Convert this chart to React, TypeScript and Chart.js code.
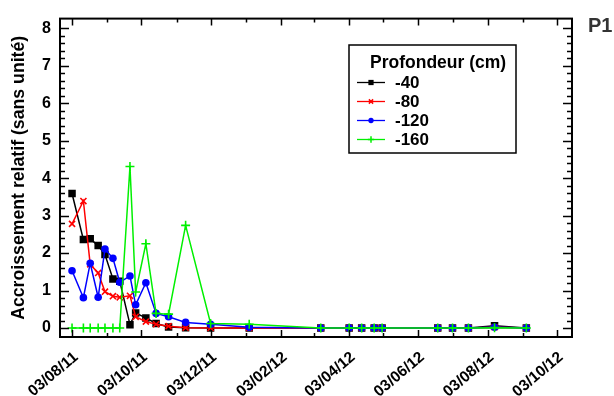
import React, { useEffect, useRef } from "react";
import { Chart, registerables } from "chart.js";

Chart.register(...registerables);

// Sampling dates (dd/mm/yy)
const sampleDates = [
  "03/08/11", "13/08/11", "19/08/11", "26/08/11", "01/09/11", "08/09/11", "14/09/11",
  "23/09/11", "28/09/11", "07/10/11", "16/10/11", "27/10/11", "11/11/11", "03/12/11",
  "06/01/12", "09/03/12", "03/04/12", "14/04/12", "25/04/12", "02/05/12", "20/06/12",
  "03/07/12", "17/07/12", "09/08/12", "06/09/12",
];

const depth40 = [3.59, 2.36, 2.38, 2.2, 1.96, 1.31, 1.25, 0.09, 0.4, 0.27, 0.12, 0.03, 0.01, 0, 0, 0, 0, 0, 0, 0, 0, 0, 0, 0.06, 0];
const depth80 = [2.78, 3.39, 1.7, 1.47, 0.97, 0.85, 0.82, 0.86, 0.3, 0.17, 0.1, 0.05, 0.01, 0, 0, 0, 0, 0, 0, 0, 0, 0, 0, 0.02, 0];
const depth120 = [1.53, 0.81, 1.73, 0.82, 2.11, 1.86, 1.22, 1.39, 0.62, 1.21, 0.39, 0.3, 0.15, 0.1, 0.02, 0, 0, 0, 0, 0, 0, 0, 0, 0.02, 0];
const depth160 = [0, 0, 0, 0, 0, 0, 0, 4.31, 0.96, 2.25, 0.39, 0.37, 2.74, 0.12, 0.1, 0, 0, 0, 0, 0, 0, 0, 0, 0.01, 0];

const seriesLabels = ["-40", "-80", "-120", "-160"];
const legendTitle = "Profondeur (cm)";
const yAxisTitle = "Accroissement relatif (sans unité)";
const panelLabel = "P1";

const xTickDates = ["03/08/11", "03/10/11", "03/12/11", "03/02/12", "03/04/12", "03/06/12", "03/08/12", "03/10/12"];
const xMinorDates = ["03/09/11", "03/11/11", "03/01/12", "03/03/12", "03/05/12", "03/07/12", "03/09/12"];
const yTicks = [0, 1, 2, 3, 4, 5, 6, 7, 8];

const ORIGIN = Date.UTC(2011, 7, 3);
function toDay(s: string): number {
  const [d, m, y] = s.split("/").map(Number);
  return (Date.UTC(2000 + y, m - 1, d) - ORIGIN) / 86400000;
}

const FONT = "'Liberation Sans', Arial, Helvetica, sans-serif";
const colors = ["#000000", "#ff0000", "#0000ff", "#00f000"];
const styles = ["rect", "crossRot", "circle", "cross"];
const radii = [5.3, 4.3, 3.8, 4.5];

function drawMarker(ctx: CanvasRenderingContext2D, style: string, x: number, y: number, r: number, color: string) {
  ctx.save();
  ctx.fillStyle = color;
  ctx.strokeStyle = color;
  ctx.lineWidth = 1.5;
  ctx.beginPath();
  if (style === "rect") {
    const s = r * Math.SQRT1_2;
    ctx.rect(x - s, y - s, 2 * s, 2 * s);
    ctx.fill();
  } else if (style === "circle") {
    ctx.arc(x, y, r, 0, Math.PI * 2);
    ctx.fill();
  } else if (style === "crossRot") {
    const s = r * Math.SQRT1_2;
    ctx.moveTo(x - s, y - s); ctx.lineTo(x + s, y + s);
    ctx.moveTo(x - s, y + s); ctx.lineTo(x + s, y - s);
    ctx.stroke();
  } else {
    ctx.moveTo(x - r, y); ctx.lineTo(x + r, y);
    ctx.moveTo(x, y - r); ctx.lineTo(x, y + r);
    ctx.stroke();
  }
  ctx.restore();
}

const framePlugin = {
  id: "frameTicks",
  afterDatasetsDraw(chart: any) {
    const { ctx, chartArea } = chart;
    const { left, right, top, bottom } = chartArea;
    const xs = chart.scales.x;
    const ys = chart.scales.y;
    ctx.save();
    ctx.strokeStyle = "#000";
    ctx.lineWidth = 1.5;
    // y ticks
    for (let v = 0; v <= 8.0001; v += 0.2) {
      const major = Math.abs(v - Math.round(v)) < 1e-6;
      const len = major ? 9 : 5;
      const py = Math.round(ys.getPixelForValue(v)) + 0.5;
      ctx.beginPath();
      ctx.moveTo(left, py); ctx.lineTo(left + len, py);
      ctx.moveTo(right, py); ctx.lineTo(right - len, py);
      ctx.stroke();
    }
    const xt = (arr: string[], len: number) => {
      arr.forEach((d) => {
        const px = Math.round(xs.getPixelForValue(toDay(d))) + 0.5;
        ctx.beginPath();
        ctx.moveTo(px, bottom); ctx.lineTo(px, bottom - len);
        ctx.moveTo(px, top); ctx.lineTo(px, top + len);
        ctx.stroke();
      });
    };
    xt(xTickDates, 7);
    xt(xMinorDates, 4);
    ctx.lineWidth = 2;
    ctx.strokeRect(left, top, right - left, bottom - top);
    ctx.restore();
  },
  afterDraw(chart: any) {
    const { ctx } = chart;
    ctx.save();
    // legend box
    ctx.strokeStyle = "#000";
    ctx.lineWidth = 1.5;
    ctx.fillStyle = "#fff";
    ctx.fillRect(349, 45, 167, 108);
    ctx.strokeRect(349, 45, 167, 108);
    ctx.fillStyle = "#000";
    ctx.font = `bold 17.5px ${FONT}`;
    ctx.textBaseline = "middle";
    ctx.textAlign = "left";
    ctx.fillText(legendTitle, 370, 63);
    const rows = [82.5, 101.5, 120.5, 139.5];
    seriesLabels.forEach((lab, i) => {
      const y = rows[i];
      ctx.strokeStyle = colors[i];
      ctx.lineWidth = 1.3;
      ctx.beginPath();
      ctx.moveTo(357, y); ctx.lineTo(385, y);
      ctx.stroke();
      drawMarker(ctx, styles[i], 371, y, radii[i] * 0.7, colors[i]);
      ctx.fillStyle = "#000";
      ctx.font = `bold 17px ${FONT}`;
      ctx.fillText(lab, 395, y + 1);
    });
    // panel label
    ctx.fillStyle = "#333";
    ctx.font = `bold 20px ${FONT}`;
    ctx.fillText(panelLabel, 588, 26);
    ctx.restore();
  },
};

export default function App() {
  const ref = useRef<HTMLCanvasElement>(null);
  useEffect(() => {
    document.body.style.margin = "0";
    if (!ref.current) return;
    const days = sampleDates.map(toDay);
    const all = [depth40, depth80, depth120, depth160];
    const chart = new Chart(ref.current, {
      type: "line",
      data: {
        datasets: all.map((vals, i) => ({
          label: seriesLabels[i],
          data: vals.map((v, j) => ({ x: days[j], y: v })),
          borderColor: colors[i],
          backgroundColor: colors[i],
          borderWidth: 1.5,
          pointStyle: styles[i] as any,
          pointRadius: radii[i],
          pointBorderWidth: i === 1 || i === 3 ? 1.6 : 0,
          pointBorderColor: colors[i],
          pointBackgroundColor: colors[i],
          tension: 0,
          fill: false,
          order: 3 - i,
        })),
      },
      options: {
        responsive: false,
        animation: false,
        layout: { padding: { top: 14, right: 42, left: 0, bottom: 0 } },
        plugins: { legend: { display: false }, tooltip: { enabled: false } },
        scales: {
          x: {
            type: "linear",
            min: -10.6,
            max: 440.2,
            afterBuildTicks: (s: any) => {
              s.ticks = xTickDates.map((d) => ({ value: toDay(d) }));
            },
            afterFit: (s: any) => {
              s.height = 59;
            },
            grid: { display: false, drawTicks: false },
            border: { display: false },
            ticks: {
              autoSkip: false,
              minRotation: 40,
              maxRotation: 40,
              padding: 11,
              labelOffset: 4,
              color: "#000",
              font: { family: FONT, size: 15.5, weight: "bold" },
              callback: (_v: any, i: number) => xTickDates[i],
            },
          },
          y: {
            type: "linear",
            min: -0.24,
            max: 8.26,
            afterBuildTicks: (s: any) => {
              s.ticks = yTicks.map((v) => ({ value: v }));
            },
            afterFit: (s: any) => {
              s.width = 60;
            },
            grid: { display: false, drawTicks: false },
            border: { display: false },
            title: {
              display: true,
              text: yAxisTitle,
              color: "#000",
              font: { family: FONT, size: 17.7, weight: "bold" },
              padding: { top: 8, bottom: 0 },
            },
            ticks: {
              padding: 9,
              color: "#000",
              font: { family: FONT, size: 16, weight: "bold" },
              callback: (v: any) => String(v),
            },
          },
        },
      },
      plugins: [framePlugin],
    });
    return () => chart.destroy();
  }, []);
  return (
    <div style={{ width: 614, height: 396, background: "#fff" }}>
      <canvas ref={ref} width={614} height={396} style={{ display: "block" }} />
    </div>
  );
}
